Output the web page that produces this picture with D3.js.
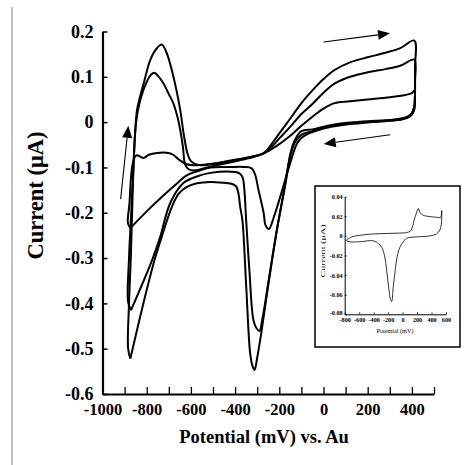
<!DOCTYPE html>
<html><head><meta charset="utf-8">
<script src="https://cdn.jsdelivr.net/npm/d3@7"></script>
<style>body{margin:0;background:#fff}svg{display:block}</style>
</head><body>
<svg id="c" width="464" height="465"></svg>
<script>
// ---- data (mV, µA) ----
const xTickValues = d3.range(-1000, 501, 100);
const xTickLabels = ["-1000","-800","-600","-400","-200","0","200","400"];
const yTickValues = [-0.6,-0.5,-0.4,-0.3,-0.2,-0.1,0,0.1,0.2];
const yTickLabels = ["-0.6","-0.5","-0.4","-0.3","-0.2","-0.1","0","0.1","0.2"];

const cycleA = [[-874,-0.522],[-884,-0.50],[-880,-0.40],[-872,-0.30],[-866,-0.20],[-860,-0.10],[-852,-0.02],[-844,0.026],[-829,0.058],[-814,0.085],[-784,0.137],[-754,0.163],[-731,0.171],[-709,0.152],[-679,0.10],[-648,0.026],[-633,-0.025],[-615,-0.07],[-600,-0.086],[-558,-0.095],[-500,-0.092],[-413,-0.084],[-340,-0.078],[-270,-0.068],[-230,-0.045],[-200,-0.025],[-150,0.008],[-100,0.042],[-50,0.07],[0,0.095],[50,0.115],[120,0.132],[200,0.143],[280,0.153],[350,0.164],[411,0.18],[414,0.12],[414,0.06],[411,0.035],[400,0.02],[380,0.012],[340,0.007],[280,0.004],[200,0.002],[120,-0.001],[50,-0.005],[0,-0.01],[-50,-0.016],[-100,-0.02],[-130,-0.04],[-150,-0.07],[-170,-0.13],[-211,-0.238],[-250,-0.36],[-283,-0.47],[-300,-0.52],[-312,-0.547],[-322,-0.537],[-332,-0.51],[-350,-0.36],[-367,-0.216],[-377,-0.187],[-385,-0.157],[-395,-0.142],[-410,-0.137],[-452,-0.134],[-513,-0.132],[-573,-0.135],[-618,-0.143],[-655,-0.158],[-686,-0.187],[-730,-0.25],[-765,-0.305],[-820,-0.41],[-874,-0.522]];

const cycleB = [[-871,-0.415],[-884,-0.397],[-880,-0.30],[-870,-0.20],[-860,-0.10],[-848,0.0],[-829,0.049],[-799,0.09],[-780,0.105],[-766,0.109],[-745,0.10],[-724,0.085],[-700,0.062],[-679,0.041],[-660,0.01],[-648,-0.018],[-636,-0.055],[-626,-0.093],[-610,-0.104],[-588,-0.107],[-500,-0.097],[-413,-0.088],[-340,-0.08],[-270,-0.069],[-230,-0.052],[-200,-0.036],[-150,-0.01],[-100,0.018],[-50,0.04],[0,0.065],[50,0.085],[120,0.1],[200,0.11],[280,0.117],[350,0.125],[411,0.138],[414,0.09],[413,0.05],[410,0.032],[398,0.018],[380,0.01],[340,0.005],[280,0.002],[200,0.0],[120,-0.003],[50,-0.007],[0,-0.012],[-50,-0.02],[-100,-0.028],[-130,-0.045],[-155,-0.085],[-180,-0.155],[-211,-0.238],[-250,-0.355],[-275,-0.43],[-290,-0.461],[-303,-0.455],[-317,-0.437],[-335,-0.33],[-350,-0.216],[-358,-0.15],[-366,-0.122],[-380,-0.113],[-400,-0.11],[-512,-0.112],[-573,-0.12],[-635,-0.135],[-694,-0.179],[-740,-0.255],[-776,-0.305],[-871,-0.415]];

const cycleC = [[-874,-0.234],[-885,-0.223],[-878,-0.18],[-867,-0.102],[-855,-0.078],[-844,-0.073],[-830,-0.076],[-814,-0.079],[-790,-0.072],[-754,-0.068],[-701,-0.068],[-680,-0.072],[-656,-0.082],[-618,-0.093],[-573,-0.095],[-500,-0.092],[-450,-0.088],[-377,-0.082],[-320,-0.076],[-270,-0.069],[-220,-0.055],[-150,-0.03],[-100,-0.008],[-50,0.012],[0,0.03],[50,0.042],[120,0.046],[200,0.05],[300,0.055],[370,0.06],[400,0.064],[412,0.07],[414,0.05],[412,0.03],[405,0.02],[390,0.012],[350,0.006],[280,0.003],[200,-0.001],[120,-0.004],[50,-0.009],[0,-0.014],[-50,-0.022],[-75,-0.027],[-100,-0.035],[-120,-0.047],[-151,-0.091],[-196,-0.165],[-225,-0.21],[-247,-0.236],[-262,-0.228],[-271,-0.2],[-294,-0.15],[-310,-0.115],[-325,-0.102],[-360,-0.099],[-420,-0.099],[-512,-0.1],[-560,-0.107],[-617,-0.117],[-671,-0.139],[-738,-0.168],[-800,-0.197],[-874,-0.234]];

// arrows: [startV, startI, endV, endI]
const arrows = [[0,0.177,301,0.196],[301,-0.028,1,-0.048],[-918,-0.17,-883,-0.008]];

// inset
const insetXTicks = [-800,-600,-400,-200,0,200,400,600];
const insetXLabels = ["-800","-600","-400","-200","0","200","400","600"];
const insetYTicks = [-0.08,-0.06,-0.04,-0.02,0,0.02,0.04];
const insetYLabels = ["-0.08","-0.06","-0.04","-0.02","0","0.02","0.04"];
const insetCycle = [[-775,-0.004],[-700,-0.001],[-600,0.0005],[-405,0.002],[-200,0.0025],[0,0.003],[56,0.0034],[110,0.005],[135,0.009],[160,0.016],[190,0.023],[217,0.028],[240,0.024],[286,0.021],[350,0.02],[471,0.019],[526,0.019],[540,0.026],[535,0.012],[516,0.006],[470,0.002],[378,0.0],[200,-0.001],[56,-0.0024],[10,-0.006],[-40,-0.012],[-82,-0.024],[-110,-0.04],[-129,-0.052],[-151,-0.067],[-170,-0.064],[-188,-0.055],[-205,-0.045],[-220,-0.035],[-250,-0.02],[-289,-0.0115],[-330,-0.008],[-405,-0.005],[-600,-0.006],[-727,-0.006],[-772,-0.005],[-775,-0.004]];

// ---- drawing ----
const svg = d3.select("#c");
const FONT = "'Liberation Serif','Times New Roman',serif";

svg.append("line").attr("x1",12).attr("x2",12).attr("y1",7).attr("y2",465)
  .attr("stroke","#808080").attr("stroke-width",1);

const x = d3.scaleLinear().domain([-1000,500]).range([102.5,434]);
const y = d3.scaleLinear().domain([-0.6,0.2]).range([394,31.5]);

const line = d3.line().x(d=>x(d[0])).y(d=>y(d[1])).curve(d3.curveCatmullRom.alpha(0.5));
[cycleA,cycleB,cycleC].forEach(c=>{
  svg.append("path").attr("d",line(c)).attr("fill","none").attr("stroke","#000")
    .attr("stroke-width",2).attr("stroke-linejoin","round");
});

const xAxis = d3.axisBottom(x).tickValues(xTickValues).tickSize(-7).tickSizeOuter(0).tickPadding(9)
  .tickFormat(d => xTickLabels.includes(String(d)) ? String(d) : "");
const gx = svg.append("g").attr("transform","translate(0,394)").call(xAxis);
gx.selectAll("text").attr("font-family",FONT).attr("font-weight","bold").attr("font-size",16.5).attr("fill","#000");
gx.select(".domain").attr("stroke-width",2.2);
gx.selectAll(".tick line").attr("stroke-width",1.3);

const yAxis = d3.axisLeft(y).tickValues(yTickValues).tickSize(-5).tickSizeOuter(0).tickPadding(9)
  .tickFormat((d,i)=>yTickLabels[i]);
const gy = svg.append("g").attr("transform","translate(102.5,0)").call(yAxis);
gy.selectAll("text").attr("font-family",FONT).attr("font-weight","bold").attr("font-size",18).attr("fill","#000");
gy.select(".domain").attr("stroke-width",2.2);
gy.selectAll(".tick line").attr("stroke-width",1.5);

svg.append("text").attr("x",264).attr("y",443).attr("text-anchor","middle")
  .attr("font-family",FONT).attr("font-weight","bold").attr("font-size",18.5).text("Potential (mV) vs. Au");
svg.append("text").attr("transform","translate(43,195.5) rotate(-90)").attr("text-anchor","middle")
  .attr("font-family",FONT).attr("font-weight","bold").attr("font-size",22.5).text("Current (μA)");

// arrows
arrows.forEach(a=>{
  const x1=x(a[0]), y1=y(a[1]), x2=x(a[2]), y2=y(a[3]);
  const ang=Math.atan2(y2-y1,x2-x1), L=12, W=5;
  const bx=x2-L*Math.cos(ang), by=y2-L*Math.sin(ang);
  svg.append("line").attr("x1",x1).attr("y1",y1).attr("x2",bx).attr("y2",by).attr("stroke","#000").attr("stroke-width",1.1);
  const p=[[x2,y2],[bx+W*Math.sin(ang),by-W*Math.cos(ang)],[bx-W*Math.sin(ang),by+W*Math.cos(ang)]];
  svg.append("path").attr("d","M"+p.map(q=>q.join(",")).join("L")+"Z").attr("fill","#000");
});

// inset
svg.append("rect").attr("x",315).attr("y",186).attr("width",145).attr("height",161)
  .attr("fill","#fff").attr("stroke","#000").attr("stroke-width",1.5);
const ix = d3.scaleLinear().domain([-800,600]).range([344.7,446]);
const iy = d3.scaleLinear().domain([-0.08,0.04]).range([314.3,196.7]);
const iline = d3.line().x(d=>ix(d[0])).y(d=>iy(d[1])).curve(d3.curveCatmullRom.alpha(0.5));
svg.append("path").attr("d",iline(insetCycle)).attr("fill","none").attr("stroke","#000").attr("stroke-width",0.8);
const gix = svg.append("g").attr("transform","translate(0,314.3)")
  .call(d3.axisBottom(ix).tickValues(insetXTicks).tickSize(-2).tickSizeOuter(0).tickPadding(3.5).tickFormat((d,i)=>insetXLabels[i]));
const giy = svg.append("g").attr("transform","translate(344.7,0)")
  .call(d3.axisLeft(iy).tickValues(insetYTicks).tickSize(-2).tickSizeOuter(0).tickPadding(2).tickFormat((d,i)=>insetYLabels[i]));
[gix,giy].forEach(g=>{
  g.selectAll("text").attr("font-family",FONT).attr("font-weight","bold").attr("font-size",6.2).attr("fill","#000");
  g.select(".domain").attr("stroke-width",1);
  g.selectAll(".tick line").attr("stroke-width",0.8);
});
giy.selectAll(".tick text").filter((d)=>d===-0.08).attr("dy","0.1em");
svg.append("text").attr("x",395).attr("y",333).attr("text-anchor","middle")
  .attr("font-family",FONT).attr("font-size",6.2).text("Potential (mV)");
svg.append("text").attr("transform","translate(325,251) scale(1,1.5) rotate(-90)").attr("text-anchor","middle")
  .attr("font-family",FONT).attr("font-size",6.8).text("Current (μA)");
</script>
</body></html>
